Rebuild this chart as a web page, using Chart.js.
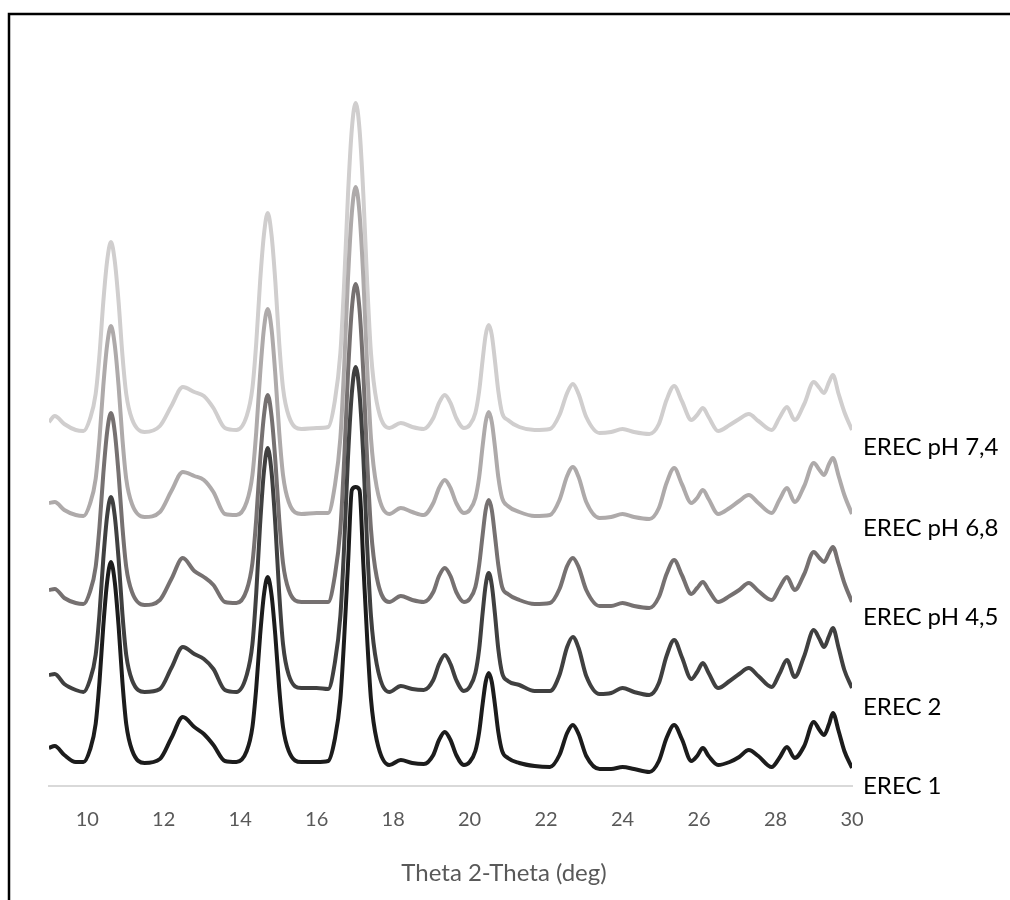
<!DOCTYPE html>
<html>
<head>
<meta charset="utf-8">
<script src="https://cdn.jsdelivr.net/npm/chart.js@4/dist/chart.umd.min.js"></script>
<style>
  html, body { margin: 0; padding: 0; background: #ffffff; }
  #wrap { position: relative; width: 1010px; height: 900px; }
  canvas { display: block; }
</style>
</head>
<body>
<div id="wrap"><canvas id="xrd" width="1010" height="900"></canvas></div>
<script>
// 2-theta sampling positions (deg)
const theta = [
  9.0, 9.15, 9.4, 9.7, 9.9, 10.07, 10.22, 10.32, 10.42, 10.52,
  10.62, 10.72, 10.82, 10.92, 11.02, 11.17, 11.5, 11.9, 12.2, 12.5,
  12.8, 13.05, 13.3, 13.6, 13.9, 14.17, 14.32, 14.42, 14.52, 14.62,
  14.72, 14.82, 14.92, 15.02, 15.12, 15.27, 15.6, 16.0, 16.3, 16.47,
  16.62, 16.72, 16.82, 16.92, 17.02, 17.12, 17.22, 17.32, 17.42, 17.57,
  17.9, 18.2, 18.5, 18.8, 19.05, 19.2, 19.35, 19.5, 19.65, 19.85,
  20.0, 20.15, 20.25, 20.34, 20.42, 20.5, 20.58, 20.66, 20.75, 20.85,
  21.0, 21.3, 21.7, 22.1, 22.35, 22.55, 22.7, 22.85, 23.05, 23.4,
  23.7, 24.0, 24.3, 24.7, 24.95, 25.15, 25.35, 25.55, 25.8, 25.95,
  26.1, 26.25, 26.5, 26.8, 27.05, 27.3, 27.55, 27.9, 28.1, 28.3,
  28.5, 28.75, 29.0, 29.15, 29.27, 29.4, 29.5, 29.65, 29.8, 30.0
];

// stacked (offset) diffractogram intensities, arbitrary units
const erec1 = [
  38, 40, 31, 24, 24, 36, 62, 104, 160, 204,
  224, 204, 160, 104, 62, 36, 23, 27, 48, 69,
  59, 52, 41, 25, 24, 35, 59, 98, 150, 191,
  209, 191, 150, 98, 59, 35, 24, 24, 25, 46,
  87, 148, 222, 296, 299, 296, 222, 148, 87, 46,
  21, 26, 23, 22, 31, 46, 54, 46, 31, 21,
  24, 35, 54, 82, 104, 113, 104, 82, 54, 35,
  28, 23, 20, 19, 31, 53, 61, 52, 30, 17,
  17, 19, 17, 14, 25, 48, 61, 47, 25, 30,
  38, 30, 21, 24, 29, 36, 30, 19, 28, 39,
  28, 40, 64, 56, 51, 62, 73, 55, 35, 18
];
const erec2 = [
  111, 112, 102, 96, 94, 106, 131, 172, 227, 270,
  289, 270, 227, 172, 131, 106, 94, 97, 118, 139,
  132, 127, 117, 96, 94, 111, 142, 193, 261, 314,
  338, 314, 261, 193, 142, 111, 98, 98, 97, 122,
  170, 241, 329, 393, 419, 393, 329, 241, 170, 122,
  94, 100, 97, 96, 106, 122, 131, 122, 106, 95,
  99, 113, 137, 173, 201, 213, 201, 173, 137, 113,
  105, 101, 95, 95, 111, 139, 149, 138, 110, 92,
  93, 98, 94, 91, 103, 130, 146, 129, 107, 114,
  123, 113, 98, 105, 112, 118, 110, 99, 112, 126,
  109, 130, 156, 147, 139, 150, 158, 138, 116, 98
];
const erecPh45 = [
  196, 197, 188, 183, 182, 194, 219, 259, 312, 354,
  373, 354, 312, 259, 219, 194, 181, 186, 207, 228,
  215, 209, 201, 184, 183, 196, 223, 267, 325, 370,
  391, 370, 325, 267, 223, 196, 184, 184, 184, 209,
  257, 327, 413, 477, 502, 477, 413, 327, 257, 209,
  184, 190, 186, 184, 194, 210, 218, 210, 194, 184,
  187, 199, 221, 251, 276, 286, 276, 251, 221, 199,
  192, 186, 182, 183, 197, 220, 228, 219, 196, 180,
  180, 183, 180, 178, 189, 212, 226, 211, 192, 198,
  204, 196, 184, 190, 196, 203, 195, 186, 198, 209,
  196, 212, 234, 228, 224, 233, 239, 222, 203, 184
];
const erecPh68 = [
  283, 284, 276, 271, 270, 282, 307, 347, 400, 441,
  460, 441, 400, 347, 307, 282, 269, 274, 295, 314,
  310, 306, 294, 272, 271, 284, 311, 354, 411, 457,
  477, 457, 411, 354, 311, 284, 272, 273, 273, 299,
  348, 420, 508, 573, 599, 573, 508, 420, 348, 299,
  272, 278, 274, 271, 283, 298, 306, 298, 283, 273,
  276, 288, 309, 340, 364, 374, 364, 340, 309, 288,
  280, 274, 270, 271, 286, 310, 319, 309, 284, 268,
  269, 272, 269, 267, 278, 303, 318, 302, 283, 288,
  296, 287, 272, 278, 285, 291, 283, 273, 286, 298,
  284, 300, 323, 316, 311, 322, 328, 310, 291, 272
];
const erecPh74 = [
  364, 370, 362, 356, 355, 367, 392, 431, 484, 525,
  544, 525, 484, 431, 392, 367, 354, 360, 380, 399,
  394, 390, 378, 358, 356, 370, 398, 443, 504, 551,
  573, 551, 504, 443, 398, 370, 357, 358, 359, 384,
  433, 504, 592, 657, 683, 657, 592, 504, 433, 384,
  358, 363, 359, 357, 368, 383, 391, 383, 368, 358,
  361, 373, 395, 426, 451, 461, 451, 426, 395, 373,
  366, 359, 356, 357, 371, 393, 402, 392, 369, 353,
  354, 357, 354, 352, 362, 386, 400, 385, 366, 371,
  378, 369, 355, 361, 367, 372, 365, 356, 368, 379,
  366, 382, 404, 398, 393, 404, 411, 392, 374, 356
];

// series names, their label heights (same units as intensities) and colours
const seriesNames = ['EREC 1', 'EREC 2', 'EREC pH 4,5', 'EREC pH 6,8', 'EREC pH 7,4'];
const labelLevels = [0, 79, 169, 258, 339];
const seriesColors = ['#1c1c1c', '#404040', '#767171', '#aeaaaa', '#d0cece'];

// x axis tick values
const tickValues = [10, 12, 14, 16, 18, 20, 22, 24, 26, 28, 30];
const axisTitle = 'Theta 2-Theta (deg)';

const seriesData = [erec1, erec2, erecPh45, erecPh68, erecPh74];

const datasets = seriesData.map((vals, i) => ({
  label: seriesNames[i],
  data: vals.map((v, k) => ({ x: theta[k], y: v })),
  borderColor: seriesColors[i],
  backgroundColor: seriesColors[i],
  borderWidth: 4,
  pointRadius: 0,
  cubicInterpolationMode: 'monotone',
  fill: false
}));

// white page with the black frame
const framePlugin = {
  id: 'frame',
  beforeDraw(chart) {
    const ctx = chart.ctx;
    ctx.save();
    ctx.fillStyle = '#ffffff';
    ctx.fillRect(0, 0, chart.width, chart.height);
    ctx.strokeStyle = '#000000';
    ctx.lineWidth = 2.5;
    ctx.beginPath();
    ctx.moveTo(9, 1000);
    ctx.lineTo(9, 14);
    ctx.lineTo(1100, 14);
    ctx.stroke();
    ctx.restore();
  }
};

// series names at the right end and the axis title
const textPlugin = {
  id: 'seriesText',
  afterDraw(chart) {
    const ctx = chart.ctx;
    const y = chart.scales.y;
    ctx.save();
    ctx.fillStyle = '#000000';
    ctx.font = '24px Lato';
    ctx.textAlign = 'left';
    ctx.textBaseline = 'middle';
    seriesNames.forEach((name, i) => {
      ctx.fillText(name, chart.chartArea.right + 11, y.getPixelForValue(labelLevels[i]));
    });
    ctx.fillStyle = '#595959';
    ctx.font = '24px Lato';
    ctx.textAlign = 'center';
    ctx.fillText(axisTitle, 504, 873);
    ctx.restore();
  }
};

Chart.defaults.font.family = 'Lato';

new Chart(document.getElementById('xrd'), {
  type: 'line',
  data: { datasets },
  options: {
    responsive: false,
    animation: false,
    layout: { padding: { left: 49, right: 158, top: 86, bottom: 0 } },
    plugins: { legend: { display: false }, tooltip: { enabled: false } },
    scales: {
      x: {
        type: 'linear',
        min: 9,
        max: 30,
        afterBuildTicks(scale) { scale.ticks = tickValues.map(v => ({ value: v })); },
        afterFit(scale) { scale.height = 114; },
        grid: { display: false, drawTicks: false },
        border: { display: true, color: '#d9d9d9', width: 2 },
        ticks: { color: '#595959', font: { size: 20 }, padding: 22, maxRotation: 0, autoSkip: false }
      },
      y: {
        display: false,
        min: 0,
        max: 700
      }
    }
  },
  plugins: [framePlugin, textPlugin]
});
</script>
</body>
</html>
